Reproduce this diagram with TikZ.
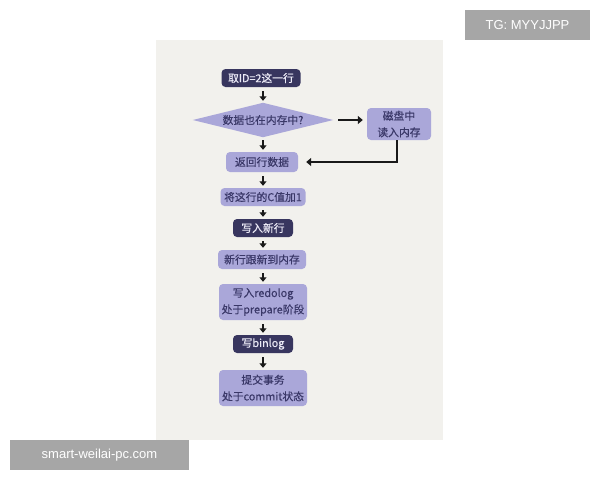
\documentclass[tikz,border=0pt]{standalone}
\usepackage{fontspec}
\newfontfamily\cjk[FakeBold=0.4]{Noto Sans CJK SC}
\newfontfamily\wmfont{Liberation Sans}
\usetikzlibrary{arrows.meta}
\definecolor{panel}{HTML}{F2F1ED}
\definecolor{darkbox}{HTML}{38365F}
\definecolor{lightbox}{HTML}{AAA7D9}
\definecolor{lighttext}{HTML}{3A3868}
\definecolor{darktext}{HTML}{ECEBF7}
\definecolor{wmgray}{HTML}{A6A6A6}
\tikzset{
  boxfont/.style={font=\cjk\fontsize{10.8}{16.5}\selectfont},
  lightnode/.style={rectangle, rounded corners=4pt, fill=lightbox, text=lighttext, inner sep=0pt, align=center, boxfont},
  darknode/.style={rectangle, rounded corners=4pt, fill=darkbox, text=darktext, inner sep=0pt, align=center, boxfont},
  decision/.style={rectangle, inner sep=0pt, text=lighttext, boxfont},
  arr/.style={line width=2.2pt, draw=black!90, -{Triangle[length=4.5pt,width=7pt]}, shorten <=4pt, shorten >=2pt},
  thickarr/.style={line width=2.8pt, draw=black!90, -{Triangle[length=5pt,width=8pt]}},
  wmbox/.style={fill=wmgray, text=white, inner sep=0pt, font=\wmfont\fontsize{13}{15}\selectfont}
}
\begin{document}
\begin{tikzpicture}[x=1pt,y=-1pt]
\useasboundingbox (0,0) rectangle (600,480);
\fill[white] (0,0) rectangle (600,480);
\fill[panel] (156,40) rectangle (443,440);
\node[wmbox, minimum width=125pt, minimum height=30pt] (tg) at (527.5,25) {TG: MYYJJPP};
\node[wmbox, minimum width=179pt, minimum height=30pt] (site) at (99.5,455) {smart-weilai-pc.com};

\node[darknode, minimum width=79pt, minimum height=18pt] (n1) at (261,78) {取ID=2这一行};
\node[decision, minimum width=140pt, minimum height=34pt] (d) at (263,120) {};
\fill[lightbox] (d.north) -- (d.east) -- (d.south) -- (d.west) -- cycle;
\node[decision] (dt) at (d.center) {数据也在内存中?};
\node[lightnode, minimum width=64pt, minimum height=32pt] (disk) at (399,124) {磁盘中\\读入内存};
\node[lightnode, minimum width=72pt, minimum height=20pt] (n2) at (262,162) {返回行数据};
\node[lightnode, minimum width=85pt, minimum height=18pt] (n3) at (263,197) {将这行的C值加1};
\node[darknode, minimum width=60pt, minimum height=18pt] (n4) at (263,228) {写入新行};
\node[lightnode, minimum width=88pt, minimum height=19pt] (n5) at (262,259.5) {新行跟新到内存};
\node[lightnode, minimum width=88pt, minimum height=36pt] (n6) at (263,302) {写入redolog\\处于prepare阶段};
\node[darknode, minimum width=60pt, minimum height=18pt] (n7) at (263,344) {写binlog};
\node[lightnode, minimum width=88pt, minimum height=36pt] (n8) at (263,388) {提交事务\\处于commit状态};

\draw[arr] (n1.south -| d.north) -- (d.north);
\draw[arr, shorten <=3pt] (d.south) -- (d.south |- n2.north);
\draw[arr] (n2.south -| n3.north) -- (n3.north);
\draw[arr] (n3.south) -- (n4.north);
\draw[arr] (n4.south) -- (n4.south |- n5.north);
\draw[arr] (n5.south -| n6.north) -- (n6.north);
\draw[arr] (n6.south) -- (n7.north);
\draw[arr] (n7.south) -- (n8.north);
\draw[thickarr, shorten <=5pt, shorten >=4pt] (d.east) -- (d.east -| disk.west);
\draw[thickarr, shorten >=8pt] ([xshift=-2pt]disk.south) |- (n2.east);
\end{tikzpicture}
\end{document}
